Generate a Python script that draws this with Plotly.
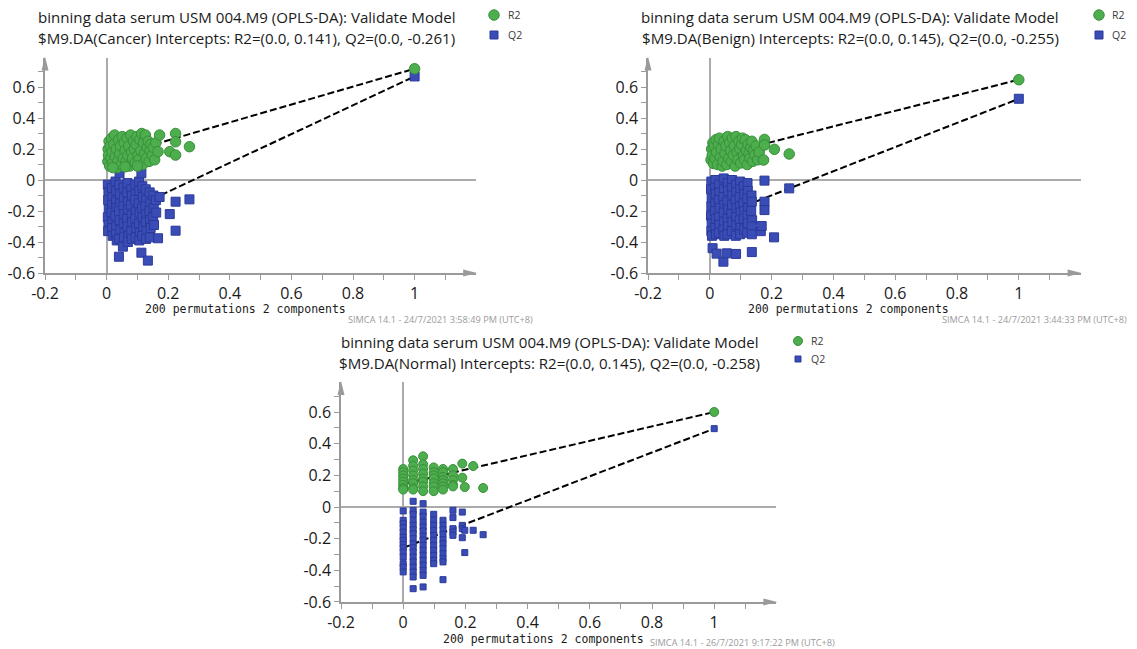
import plotly.graph_objects as go

W, H = 1137, 649
FONT = "Open Sans"
MONO = "DejaVu Sans Mono"

# ---------------- tick labels ----------------
X_TICK_VALS = [-0.2, 0, 0.2, 0.4, 0.6, 0.8, 1]
X_TICK_TEXT = ["-0.2", "0", "0.2", "0.4", "0.6", "0.8", "1"]
X_MINOR_VALS = [-0.1, 0.1, 0.3, 0.5, 0.7, 0.9, 1.1]
Y_TICK_VALS = [-0.6, -0.4, -0.2, 0, 0.2, 0.4, 0.6]
Y_TICK_TEXT = ["-0.6", "-0.4", "-0.2", "0", "0.2", "0.4", "0.6"]
Y_MINOR_VALS = [-0.5, -0.3, -0.1, 0.1, 0.3, 0.5, 0.7]
X_RANGE = [-0.2, 1.2]
Y_RANGE = [-0.6, 0.79]

SERIES_NAMES = ["R2", "Q2"]

# ---------------- Cancer ----------------
CANCER_R2_INTERCEPT = 0.141
CANCER_Q2_INTERCEPT = -0.261
CANCER_R2_MODEL = 0.718
CANCER_Q2_MODEL = 0.668
CANCER_R2_PERM = [
    (0.004, 0.12), (0.005, 0.20), (0.006, 0.16), (0.008, 0.25), (0.010, 0.09), (0.012, 0.22), (0.014, 0.14), (0.016, 0.27),
    (0.018, 0.18), (0.020, 0.11), (0.023, 0.23), (0.026, 0.29), (0.028, 0.15), (0.031, 0.20), (0.034, 0.08), (0.036, 0.12),
    (0.039, 0.26), (0.042, 0.17), (0.045, 0.22), (0.048, 0.10), (0.051, 0.28), (0.054, 0.14), (0.057, 0.24), (0.060, 0.19),
    (0.063, 0.12), (0.066, 0.27), (0.069, 0.16), (0.072, 0.22), (0.075, 0.09), (0.078, 0.29), (0.081, 0.18), (0.084, 0.14),
    (0.087, 0.25), (0.090, 0.20), (0.093, 0.11), (0.096, 0.23), (0.099, 0.28), (0.102, 0.16), (0.105, 0.13), (0.108, 0.26),
    (0.111, 0.19), (0.114, 0.30), (0.117, 0.10), (0.120, 0.24), (0.123, 0.17), (0.126, 0.29), (0.129, 0.14), (0.132, 0.21),
    (0.135, 0.25), (0.138, 0.12), (0.141, 0.19), (0.144, 0.23), (0.148, 0.16), (0.152, 0.21), (0.156, 0.13), (0.160, 0.24),
    (0.167, 0.183), (0.172, 0.29), (0.205, 0.183), (0.224, 0.30), (0.224, 0.247), (0.224, 0.161), (0.269, 0.215),
    (0.020, 0.08), (0.060, 0.085), (0.100, 0.09),
]
CANCER_Q2_PERM = [
    (0.004, -0.03), (0.006, -0.08), (0.005, -0.13), (0.007, -0.19), (0.004, -0.24), (0.006, -0.29), (0.005, -0.33),
    (0.017, -0.05), (0.019, -0.11), (0.018, -0.16), (0.016, -0.21), (0.019, -0.27), (0.018, -0.31), (0.020, -0.36),
    (0.029, -0.01), (0.031, -0.07), (0.030, -0.14), (0.032, -0.18), (0.028, -0.23), (0.031, -0.30), (0.030, -0.35), (0.033, -0.39),
    (0.042, 0.043), (0.041, -0.03), (0.043, -0.09), (0.044, -0.15), (0.040, -0.20), (0.042, -0.26), (0.045, -0.32), (0.041, -0.38),
    (0.053, -0.43), (0.040, -0.495),
    (0.055, -0.05), (0.056, -0.12), (0.054, -0.17), (0.057, -0.22), (0.055, -0.28), (0.058, -0.34), (0.056, -0.37),
    (0.068, -0.02), (0.067, -0.08), (0.069, -0.14), (0.070, -0.19), (0.066, -0.25), (0.068, -0.30), (0.071, -0.36), (0.069, -0.40),
    (0.080, -0.06), (0.082, -0.10), (0.079, -0.16), (0.081, -0.23), (0.083, -0.27), (0.080, -0.33), (0.082, -0.38),
    (0.093, -0.03), (0.094, -0.09), (0.092, -0.13), (0.095, -0.20), (0.093, -0.25), (0.096, -0.31), (0.094, -0.37),
    (0.105, -0.01), (0.106, -0.07), (0.104, -0.15), (0.107, -0.21), (0.105, -0.28), (0.108, -0.34), (0.106, -0.39),
    (0.113, 0.043), (0.116, -0.04), (0.118, -0.11), (0.115, -0.18), (0.117, -0.24), (0.119, -0.30), (0.116, -0.36), (0.113, -0.469),
    (0.127, -0.06), (0.128, -0.13), (0.126, -0.17), (0.129, -0.22), (0.127, -0.27), (0.130, -0.33), (0.128, -0.38),
    (0.134, -0.52),
    (0.140, -0.08), (0.142, -0.15), (0.139, -0.20), (0.141, -0.26), (0.143, -0.31), (0.140, -0.37),
    (0.152, -0.10), (0.153, -0.18), (0.151, -0.24), (0.154, -0.29),
    (0.160, -0.13), (0.161, -0.21),
    (0.172, -0.11), (0.167, -0.376), (0.205, -0.22), (0.224, -0.14), (0.224, -0.327), (0.269, -0.125),
]

# ---------------- Benign ----------------
BENIGN_R2_INTERCEPT = 0.145
BENIGN_Q2_INTERCEPT = -0.255
BENIGN_R2_MODEL = 0.647
BENIGN_Q2_MODEL = 0.524
BENIGN_R2_PERM = [
    (0.004, 0.13), (0.006, 0.20), (0.008, 0.16), (0.010, 0.24), (0.012, 0.107), (0.014, 0.22), (0.017, 0.14), (0.020, 0.26),
    (0.022, 0.18), (0.025, 0.10), (0.028, 0.23), (0.031, 0.27), (0.034, 0.15), (0.037, 0.20), (0.040, 0.09), (0.043, 0.12),
    (0.046, 0.25), (0.049, 0.17), (0.052, 0.22), (0.055, 0.10), (0.058, 0.28), (0.061, 0.14), (0.064, 0.24), (0.067, 0.19),
    (0.070, 0.12), (0.073, 0.27), (0.076, 0.16), (0.079, 0.22), (0.082, 0.09), (0.085, 0.28), (0.088, 0.18), (0.091, 0.13),
    (0.094, 0.25), (0.097, 0.20), (0.100, 0.11), (0.103, 0.23), (0.106, 0.27), (0.109, 0.16), (0.112, 0.13), (0.115, 0.26),
    (0.118, 0.19), (0.121, 0.10), (0.124, 0.23), (0.127, 0.17), (0.130, 0.14), (0.133, 0.21), (0.136, 0.25), (0.139, 0.12),
    (0.142, 0.19), (0.146, 0.16), (0.150, 0.22), (0.155, 0.13), (0.160, 0.18), (0.174, 0.129),
    (0.177, 0.262), (0.177, 0.226), (0.209, 0.198), (0.257, 0.168),
]
BENIGN_Q2_PERM = [
    (0.005, -0.01), (0.004, -0.06), (0.006, -0.12), (0.005, -0.17), (0.004, -0.23), (0.006, -0.28), (0.005, -0.33), (0.007, -0.36), (0.009, -0.44),
    (0.018, 0.00), (0.017, -0.05), (0.019, -0.09), (0.018, -0.15), (0.016, -0.20), (0.019, -0.25), (0.018, -0.31), (0.020, -0.35),
    (0.022, -0.475),
    (0.030, -0.03), (0.031, -0.08), (0.029, -0.13), (0.032, -0.18), (0.030, -0.24), (0.031, -0.29), (0.029, -0.34),
    (0.044, -0.527),
    (0.045, 0.01), (0.046, -0.06), (0.044, -0.11), (0.047, -0.16), (0.045, -0.21), (0.046, -0.27), (0.044, -0.32), (0.047, -0.36),
    (0.055, -0.473),
    (0.058, -0.02), (0.059, -0.07), (0.057, -0.14), (0.060, -0.19), (0.058, -0.25), (0.059, -0.30), (0.057, -0.35),
    (0.072, 0.00), (0.071, -0.05), (0.073, -0.10), (0.072, -0.16), (0.070, -0.22), (0.073, -0.27), (0.071, -0.33),
    (0.085, -0.03), (0.086, -0.08), (0.084, -0.13), (0.087, -0.18), (0.085, -0.24), (0.086, -0.29), (0.084, -0.36), (0.085, -0.477),
    (0.098, -0.01), (0.099, -0.06), (0.097, -0.11), (0.098, -0.17), (0.100, -0.21), (0.097, -0.26), (0.099, -0.31), (0.098, -0.35),
    (0.110, -0.04), (0.111, -0.09), (0.109, -0.15), (0.112, -0.20), (0.110, -0.25), (0.111, -0.32),
    (0.122, -0.02), (0.123, -0.07), (0.121, -0.12), (0.124, -0.18), (0.122, -0.23), (0.123, -0.28), (0.121, -0.34),
    (0.135, -0.10), (0.136, -0.14), (0.134, -0.20), (0.137, -0.26), (0.135, -0.30), (0.136, -0.35), (0.136, -0.465),
    (0.165, -0.33), (0.168, -0.297), (0.177, -0.004), (0.177, -0.14), (0.177, -0.194),
    (0.208, -0.37), (0.257, -0.054),
]

# ---------------- Normal ----------------
NORMAL_R2_INTERCEPT = 0.145
NORMAL_Q2_INTERCEPT = -0.258
NORMAL_R2_MODEL = 0.600
NORMAL_Q2_MODEL = 0.495
NORMAL_R2_PERM = [
    (0.0, 0.24), (0.0, 0.22), (0.0, 0.20), (0.0, 0.18), (0.0, 0.16), (0.0, 0.14), (0.0, 0.12), (0.0, 0.11),
    (0.032, 0.295), (0.032, 0.26), (0.032, 0.23), (0.032, 0.20), (0.032, 0.17), (0.032, 0.15), (0.032, 0.12), (0.032, 0.11),
    (0.064, 0.32), (0.064, 0.27), (0.064, 0.24), (0.064, 0.21), (0.064, 0.18), (0.064, 0.16), (0.064, 0.13), (0.064, 0.10),
    (0.098, 0.25), (0.098, 0.22), (0.098, 0.20), (0.098, 0.18), (0.098, 0.15), (0.098, 0.13), (0.098, 0.10),
    (0.128, 0.24), (0.128, 0.22), (0.128, 0.19), (0.128, 0.17), (0.128, 0.15), (0.128, 0.13), (0.128, 0.11),
    (0.160, 0.24), (0.160, 0.20), (0.160, 0.17), (0.160, 0.14), (0.160, 0.13),
    (0.190, 0.274), (0.190, 0.185), (0.198, 0.126), (0.225, 0.259), (0.257, 0.120),
]
NORMAL_Q2_PERM = [
    (0.0, -0.025), (0.0, -0.084), (0.0, -0.105), (0.0, -0.13), (0.0, -0.158), (0.0, -0.19), (0.0, -0.21), (0.0, -0.236),
    (0.0, -0.257), (0.0, -0.284), (0.0, -0.316), (0.0, -0.358), (0.0, -0.379), (0.0, -0.41),
    (0.032, 0.036), (0.032, -0.021), (0.032, -0.046), (0.032, -0.084), (0.032, -0.116), (0.032, -0.143), (0.032, -0.168),
    (0.032, -0.20), (0.032, -0.232), (0.032, -0.257), (0.032, -0.284), (0.032, -0.316), (0.032, -0.347), (0.032, -0.379),
    (0.032, -0.41), (0.032, -0.442), (0.032, -0.516),
    (0.064, 0.021), (0.064, -0.032), (0.064, -0.059), (0.064, -0.095), (0.064, -0.126), (0.064, -0.152), (0.064, -0.185),
    (0.064, -0.21), (0.064, -0.242), (0.064, -0.274), (0.064, -0.305), (0.064, -0.337), (0.064, -0.368), (0.064, -0.40),
    (0.064, -0.432), (0.064, -0.505),
    (0.098, -0.046), (0.098, -0.084), (0.098, -0.116), (0.098, -0.147), (0.098, -0.179), (0.098, -0.21), (0.098, -0.242),
    (0.098, -0.274), (0.098, -0.305), (0.098, -0.337), (0.098, -0.358),
    (0.128, -0.084), (0.128, -0.116), (0.128, -0.143), (0.128, -0.173), (0.128, -0.206), (0.128, -0.232), (0.128, -0.263),
    (0.128, -0.295), (0.128, -0.326), (0.128, -0.347), (0.128, -0.459),
    (0.160, -0.021), (0.160, -0.067), (0.160, -0.137), (0.160, -0.158), (0.160, -0.179),
    (0.190, -0.032), (0.190, -0.116), (0.190, -0.137), (0.190, -0.194),
    (0.198, -0.147), (0.198, -0.288), (0.225, -0.147), (0.257, -0.175),
]

TITLE_LINE1 = "binning data serum USM 004.M9 (OPLS-DA): Validate Model"
X_LABEL = "200 permutations 2 components"

# ---------------- styles ----------------
GREEN = "#4cae4c"
GREEN_EDGE = "#3a8f3a"
BLUE = "#3a4db6"
BLUE_EDGE = "#2b3a99"
AXIS_GRAY = "#9a9a9a"
ZERO_GRAY = "#ababab"
TEXT = "#1a1a1a"

# panel geometry in window pixels: x pixel of x=-0.2, px per unit x, y pixel of y=0, px per unit y
PANELS = [
    dict(cls="Cancer", r2=CANCER_R2_PERM, q2=CANCER_Q2_PERM, r2m=CANCER_R2_MODEL, q2m=CANCER_Q2_MODEL,
         r2i=CANCER_R2_INTERCEPT, q2i=CANCER_Q2_INTERCEPT, footer="SIMCA 14.1 - 24/7/2021 3:58:49 PM (UTC+8)",
         xm=45, ppx=308, y0=180, ppy=155, title_cx=246.7, title_y=(17, 38), leg=(494, 15, 35, 506),
         lab_y=309, foot=(346, 319), sz=(10.5, 9)),
    dict(cls="Benign", r2=BENIGN_R2_PERM, q2=BENIGN_Q2_PERM, r2m=BENIGN_R2_MODEL, q2m=BENIGN_Q2_MODEL,
         r2i=BENIGN_R2_INTERCEPT, q2i=BENIGN_Q2_INTERCEPT, footer="SIMCA 14.1 - 24/7/2021 3:44:33 PM (UTC+8)",
         xm=648, ppx=309, y0=180, ppy=155, title_cx=850, title_y=(17, 38), leg=(1099, 15, 35, 1110),
         lab_y=309, foot=(940, 319), sz=(10.5, 9)),
    dict(cls="Normal", r2=NORMAL_R2_PERM, q2=NORMAL_Q2_PERM, r2m=NORMAL_R2_MODEL, q2m=NORMAL_Q2_MODEL,
         r2i=NORMAL_R2_INTERCEPT, q2i=NORMAL_Q2_INTERCEPT, footer="SIMCA 14.1 - 26/7/2021 9:17:22 PM (UTC+8)",
         xm=341, ppx=311, y0=507, ppy=158.3, title_cx=549.5, title_y=(342, 363), leg=(798, 341, 359, 809),
         lab_y=639, foot=(648, 642), sz=(9, 6)),
]


def px(p):
    return p / W


def py(p):
    return 1 - p / H


fig = go.Figure()
annotations = []
shapes = []

for i, P in enumerate(PANELS, start=1):
    xa = "x" if i == 1 else f"x{i}"
    ya = "y" if i == 1 else f"y{i}"
    xkey = "xaxis" if i == 1 else f"xaxis{i}"
    ykey = "yaxis" if i == 1 else f"yaxis{i}"

    x_left = P["xm"]
    x_right = x_left + (X_RANGE[1] - X_RANGE[0]) * P["ppx"]
    y_bottom = P["y0"] - Y_RANGE[0] * P["ppy"]
    y_top = P["y0"] - Y_RANGE[1] * P["ppy"]

    common = dict(ticks="outside", ticklen=5, tickwidth=1, tickcolor=AXIS_GRAY,
                  showline=True, linecolor=AXIS_GRAY, linewidth=1.5, showgrid=False,
                  zeroline=True, zerolinecolor=ZERO_GRAY, zerolinewidth=1.5, automargin=False,
                  tickfont=dict(family=FONT, size=16, color=TEXT), fixedrange=True)
    fig.update_layout({
        xkey: dict(domain=[px(x_left), px(x_right)], range=X_RANGE, anchor=ya,
                   tickmode="array", tickvals=X_TICK_VALS, ticktext=X_TICK_TEXT,
                   minor=dict(tickmode="array", tickvals=X_MINOR_VALS, ticks="outside", ticklen=5,
                              tickwidth=1, tickcolor=AXIS_GRAY, showgrid=False),
                   **common),
        ykey: dict(domain=[py(y_bottom), py(y_top)], range=Y_RANGE, anchor=xa,
                   tickmode="array", tickvals=Y_TICK_VALS, ticktext=Y_TICK_TEXT,
                   minor=dict(tickmode="array", tickvals=Y_MINOR_VALS, ticks="outside", ticklen=5,
                              tickwidth=1, tickcolor=AXIS_GRAY, showgrid=False),
                   **common),
    })

    # regression lines through intercept and model point
    for icpt, model in ((P["r2i"], P["r2m"]), (P["q2i"], P["q2m"])):
        fig.add_trace(go.Scatter(x=[0, 1], y=[icpt, model], mode="lines", xaxis=xa, yaxis=ya,
                                 line=dict(color="black", width=2, dash="7px,3px"),
                                 hoverinfo="skip", showlegend=False))

    csz, ssz = P["sz"]
    q2x = [p[0] for p in P["q2"]] + [1]
    q2y = [p[1] for p in P["q2"]] + [P["q2m"]]
    r2x = [p[0] for p in P["r2"]] + [1]
    r2y = [p[1] for p in P["r2"]] + [P["r2m"]]
    fig.add_trace(go.Scatter(x=q2x, y=q2y, mode="markers", name="Q2", xaxis=xa, yaxis=ya,
                             marker=dict(symbol="square", size=ssz, color=BLUE,
                                         line=dict(color=BLUE_EDGE, width=1)),
                             showlegend=False, cliponaxis=False))
    fig.add_trace(go.Scatter(x=r2x, y=r2y, mode="markers", name="R2", xaxis=xa, yaxis=ya,
                             marker=dict(symbol="circle", size=csz, color=GREEN,
                                         line=dict(color=GREEN_EDGE, width=1)),
                             showlegend=False, cliponaxis=False))

    # axis arrowheads
    shapes.append(dict(type="path", xref=f"{xa} domain", yref=f"{ya} domain",
                       xsizemode="pixel", ysizemode="pixel", xanchor=1, yanchor=0,
                       path="M1,0 L-13,3.5 L-13,-3.5 Z", fillcolor=AXIS_GRAY, line=dict(width=0)))
    shapes.append(dict(type="path", xref=f"{xa} domain", yref=f"{ya} domain",
                       xsizemode="pixel", ysizemode="pixel", xanchor=0, yanchor=1,
                       path="M0,1 L-3.5,-13 L3.5,-13 Z", fillcolor=AXIS_GRAY, line=dict(width=0)))

    # title
    annotations.append(dict(text=TITLE_LINE1, xref="paper", yref="paper", x=px(P["title_cx"]),
                            y=py(P["title_y"][0]), xanchor="center", yanchor="middle", showarrow=False,
                            font=dict(family=FONT, size=15.1, color=TEXT)))
    line2 = (f"$M9.DA({P['cls']}) Intercepts: R2=(0.0, {P['r2i']:.3f}), "
             f"Q2=(0.0, {P['q2i']:.3f})")
    annotations.append(dict(text=line2, xref="paper", yref="paper", x=px(P["title_cx"]),
                            y=py(P["title_y"][1]), xanchor="center", yanchor="middle", showarrow=False,
                            font=dict(family=FONT, size=15.1, color=TEXT)))

    # legend
    lx, ly1, ly2, ltx = P["leg"]
    cr = csz / 2
    sr = ssz / 2 - 0.5 if i < 3 else ssz / 2
    shapes.append(dict(type="circle", xref="paper", yref="paper", xsizemode="pixel", ysizemode="pixel",
                       xanchor=px(lx), yanchor=py(ly1), x0=-cr, x1=cr, y0=-cr, y1=cr,
                       fillcolor=GREEN, line=dict(color=GREEN_EDGE, width=1)))
    shapes.append(dict(type="rect", xref="paper", yref="paper", xsizemode="pixel", ysizemode="pixel",
                       xanchor=px(lx), yanchor=py(ly2), x0=-sr, x1=sr, y0=-sr, y1=sr,
                       fillcolor=BLUE, line=dict(color=BLUE_EDGE, width=1)))
    for name, ly in zip(SERIES_NAMES, (ly1, ly2)):
        annotations.append(dict(text=name, xref="paper", yref="paper", x=px(ltx), y=py(ly),
                                xanchor="left", yanchor="middle", showarrow=False,
                                font=dict(family=FONT, size=10.5, color="#3a3a3a")))

    # x label (monospace) and footer
    annotations.append(dict(text=X_LABEL, xref=xa, yref="paper", x=0.45, y=py(P["lab_y"]),
                            xanchor="center", yanchor="middle", showarrow=False,
                            font=dict(family=MONO, size=11.5, color=TEXT)))
    annotations.append(dict(text=P["footer"], xref="paper", yref="paper", x=px(P["foot"][0]),
                            y=py(P["foot"][1]), xanchor="left", yanchor="middle", showarrow=False,
                            font=dict(family=FONT, size=9.2, color="#9a9a9a")))

fig.update_layout(template="none", width=W, height=H,
                  margin=dict(l=0, r=0, t=0, b=0, pad=0, autoexpand=False),
                  paper_bgcolor="white", plot_bgcolor="white", showlegend=False,
                  annotations=annotations, shapes=shapes)

fig.write_html("out.html")
